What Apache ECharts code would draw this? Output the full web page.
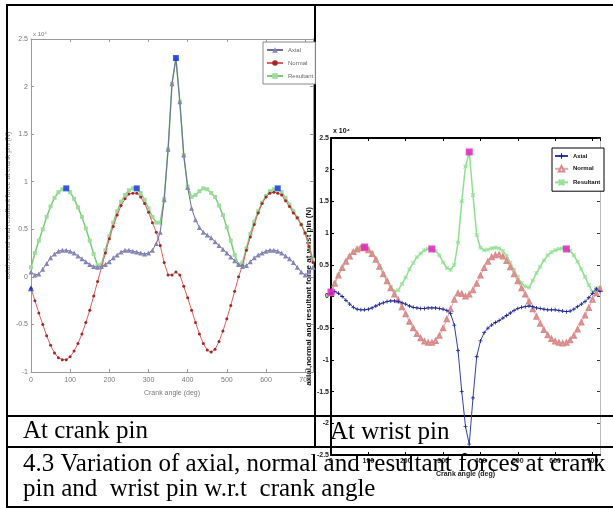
<!DOCTYPE html>
<html><head><meta charset="utf-8">
<script src="https://cdn.jsdelivr.net/npm/echarts@6/dist/echarts.min.js"></script>
<style>html,body{margin:0;padding:0;background:#fff}#c{width:613px;height:508px}</style>
</head><body><div id="c"></div>
<script>
// crank angle, degrees (step 10)
const angles = [];
for (let a = 0; a <= 720; a += 10) angles.push(a);

// ---- At crank pin (x10^4 N) ----
const crankAxial = [0.05,0.02,0.03,0.08,0.14,0.2,0.24,0.27,0.28,0.28,0.27,0.25,0.22,0.19,0.16,0.13,0.11,0.1,0.11,0.13,0.16,0.2,0.23,0.26,0.28,0.28,0.27,0.26,0.25,0.24,0.25,0.28,0.35,0.47,0.81,1.34,2.03,2.30,1.84,1.28,0.94,0.72,0.6,0.52,0.47,0.44,0.41,0.37,0.33,0.29,0.25,0.21,0.17,0.13,0.11,0.12,0.16,0.2,0.23,0.25,0.27,0.28,0.28,0.27,0.25,0.22,0.19,0.15,0.1,0.05,0.02,0.05,0.1];
const crankNormal = [-0.12,-0.25,-0.38,-0.5,-0.62,-0.72,-0.8,-0.85,-0.87,-0.87,-0.84,-0.78,-0.7,-0.6,-0.48,-0.35,-0.2,-0.05,0.1,0.25,0.4,0.53,0.65,0.75,0.82,0.87,0.88,0.88,0.84,0.77,0.68,0.57,0.47,0.33,0.15,0.02,0.02,0.05,0.02,-0.1,-0.22,-0.35,-0.48,-0.6,-0.7,-0.77,-0.79,-0.76,-0.68,-0.57,-0.44,-0.3,-0.15,0.0,0.12,0.28,0.42,0.55,0.67,0.77,0.84,0.88,0.89,0.88,0.86,0.8,0.74,0.67,0.62,0.55,0.46,0.32,0.15];
const crankResultant = [0.1,0.25,0.38,0.5,0.63,0.74,0.83,0.89,0.92,0.93,0.89,0.82,0.73,0.63,0.51,0.38,0.24,0.12,0.13,0.28,0.43,0.57,0.69,0.79,0.86,0.91,0.93,0.93,0.88,0.81,0.72,0.63,0.57,0.57,0.82,1.34,2.03,2.30,1.84,1.28,0.95,0.84,0.86,0.9,0.93,0.92,0.88,0.84,0.75,0.65,0.52,0.38,0.23,0.13,0.15,0.3,0.45,0.58,0.69,0.78,0.85,0.9,0.92,0.93,0.89,0.83,0.76,0.69,0.62,0.55,0.46,0.32,0.18];
const crankMarks = [[0,-0.12],[90,0.93],[270,0.93],[370,2.30],[630,0.93]];

// ---- At wrist pin (x10^4 N) ----
const wristAxial = [0.05,0.08,0.05,0.0,-0.06,-0.12,-0.17,-0.2,-0.21,-0.21,-0.2,-0.18,-0.15,-0.12,-0.1,-0.08,-0.07,-0.07,-0.08,-0.1,-0.12,-0.15,-0.17,-0.18,-0.19,-0.19,-0.18,-0.18,-0.18,-0.19,-0.2,-0.22,-0.27,-0.45,-0.85,-1.5,-2.05,-2.33,-1.6,-0.95,-0.7,-0.57,-0.5,-0.45,-0.41,-0.38,-0.34,-0.3,-0.26,-0.22,-0.19,-0.17,-0.16,-0.15,-0.16,-0.18,-0.19,-0.2,-0.21,-0.21,-0.21,-0.22,-0.23,-0.24,-0.23,-0.2,-0.16,-0.12,-0.08,-0.02,0.05,0.12,0.08];
const wristNormal = [0.05,0.2,0.33,0.45,0.55,0.63,0.7,0.74,0.76,0.76,0.73,0.67,0.58,0.47,0.35,0.24,0.13,0.03,-0.06,-0.17,-0.28,-0.4,-0.5,-0.59,-0.66,-0.71,-0.73,-0.73,-0.7,-0.62,-0.5,-0.36,-0.2,-0.05,0.05,0.04,0.0,0.03,0.1,0.2,0.33,0.45,0.55,0.62,0.65,0.66,0.63,0.56,0.46,0.35,0.24,0.13,0.03,-0.08,-0.2,-0.32,-0.43,-0.53,-0.61,-0.67,-0.71,-0.73,-0.74,-0.73,-0.69,-0.62,-0.52,-0.41,-0.3,-0.18,-0.05,0.05,0.12];
const wristResultant = [0.07,0.22,0.34,0.45,0.55,0.64,0.71,0.76,0.78,0.78,0.76,0.69,0.6,0.48,0.36,0.25,0.15,0.08,0.1,0.2,0.3,0.43,0.53,0.62,0.68,0.73,0.75,0.75,0.72,0.65,0.54,0.45,0.42,0.5,0.85,1.5,2.05,2.28,1.6,0.97,0.77,0.73,0.74,0.76,0.77,0.76,0.72,0.64,0.53,0.42,0.31,0.21,0.16,0.14,0.25,0.37,0.47,0.57,0.65,0.7,0.73,0.75,0.76,0.75,0.72,0.65,0.55,0.43,0.31,0.18,0.07,0.13,0.14];
const wristMarks = [[0,0.07],[90,0.78],[270,0.75],[370,2.28],[630,0.75]];

const xTicks = [0,100,200,300,400,500,600,700];
const seriesNames = ['Axial','Normal','Resultant'];
const captionCell1 = 'At crank pin';
const captionCell2 = 'At wrist pin';
const captionLine1 = '4.3 Variation of axial, normal and resultant forces at crank';
const captionLine2 = 'pin and  wrist pin w.r.t  crank angle';
const crankYName = 'axial,normal and resultant force at crank pin (N)';
const wristYName = 'axial,normal and resultant force at wrist pin (N)';
const xName = 'Crank angle (deg)';

const pair = arr => arr.map((v, i) => [angles[i], v]);
const plusPath = 'path://M4,0h2v4h4v2h-4v4h-2v-4h-4v-2h4z';
const starPath = 'path://M0,0L10,10M10,0L0,10M5,0V10M0,5H10';

const chart = echarts.init(document.getElementById('c'), null, {renderer: 'canvas'});

function lineOf(x1, y1, x2, y2) {
  return {type: 'line', z: 1, shape: {x1, y1, x2, y2}, style: {stroke: '#000', lineWidth: 2}};
}

const grayAx = '#9a9a9a';
const leftLabel = {fontSize: 7, color: '#777', fontFamily: 'Liberation Sans'};
const rightLabel = {fontSize: 7, color: '#222', fontWeight: 'bold', fontFamily: 'Liberation Sans'};

const option = {
  animation: false,
  backgroundColor: '#fff',
  grid: [
    {left: 31, top: 39, width: 282, height: 333, containLabel: false},
    {left: 331, top: 138, width: 269, height: 317, containLabel: false}
  ],
  legend: [
    {
      data: seriesNames, left: 263, top: 42, orient: 'vertical', itemWidth: 16, itemHeight: 7, itemGap: 7,
      padding: [5, 2, 5, 3], backgroundColor: '#fff', borderColor: '#888', borderWidth: 1, borderRadius: 0,
      textStyle: {fontSize: 6, color: '#666', fontFamily: 'Liberation Sans'}, selectedMode: false
    },
    {
      data: seriesNames.map(n => n + ' '), left: 552, top: 148, orient: 'vertical', itemWidth: 13, itemHeight: 7, itemGap: 6,
      padding: [5, 2, 5, 2], backgroundColor: '#fff', borderColor: '#000', borderWidth: 1, borderRadius: 0,
      textStyle: {fontSize: 6, color: '#111', fontWeight: 'bold', fontFamily: 'Liberation Sans'}, selectedMode: false
    }
  ],
  xAxis: [
    {gridIndex: 0, type: 'value', min: 0, max: 720, interval: 100, name: xName, nameLocation: 'middle', nameGap: 18,
     nameTextStyle: leftLabel, axisLine: {onZero: false, lineStyle: {color: grayAx}},
     axisTick: {inside: true, length: 3, lineStyle: {color: grayAx}}, axisLabel: Object.assign({margin: 5}, leftLabel),
     splitLine: {show: false}},
    {gridIndex: 0, type: 'value', position: 'top', min: 0, max: 720, interval: 100,
     axisLine: {onZero: false, lineStyle: {color: grayAx}}, axisTick: {inside: true, length: 3, lineStyle: {color: grayAx}},
     axisLabel: {show: false}, splitLine: {show: false}},
    {gridIndex: 1, type: 'value', min: 0, max: 720, interval: 100, name: xName, nameLocation: 'middle', nameGap: 16,
     nameTextStyle: rightLabel, axisLine: {onZero: false, lineStyle: {color: '#000', width: 2}},
     axisTick: {inside: true, length: 3, lineStyle: {color: '#000'}}, axisLabel: Object.assign({margin: 3}, rightLabel),
     splitLine: {show: false}},
    {gridIndex: 1, type: 'value', position: 'top', min: 0, max: 720, interval: 100,
     axisLine: {onZero: false, lineStyle: {color: '#000', width: 2}}, axisTick: {inside: true, length: 3, lineStyle: {color: '#000'}},
     axisLabel: {show: false}, splitLine: {show: false}}
  ],
  yAxis: [
    {gridIndex: 0, type: 'value', min: -1, max: 2.5, interval: 0.5, name: crankYName, nameLocation: 'middle', nameGap: 14,
     nameRotate: 90, nameTextStyle: leftLabel, axisLine: {onZero: false, lineStyle: {color: grayAx}},
     axisTick: {inside: true, length: 3, lineStyle: {color: grayAx}}, axisLabel: Object.assign({margin: 3}, leftLabel),
     splitLine: {show: false}},
    {gridIndex: 0, type: 'value', position: 'right', min: -1, max: 2.5, interval: 0.5,
     axisLine: {onZero: false, lineStyle: {color: grayAx}}, axisTick: {inside: true, length: 3, lineStyle: {color: grayAx}},
     axisLabel: {show: false}, splitLine: {show: false}},
    {gridIndex: 1, type: 'value', min: -2.5, max: 2.5, interval: 0.5, name: wristYName, nameLocation: 'middle', nameGap: 5,
     nameRotate: 90, nameTextStyle: {fontSize: 8, color: '#111', fontWeight: 'bold', fontFamily: 'Liberation Sans'},
     axisLine: {onZero: false, lineStyle: {color: '#000', width: 2}},
     axisTick: {inside: true, length: 3, lineStyle: {color: '#000'}}, axisLabel: Object.assign({margin: 2}, rightLabel),
     splitLine: {show: false}},
    {gridIndex: 1, type: 'value', position: 'right', min: -2.5, max: 2.5, interval: 0.5,
     axisLine: {onZero: false, lineStyle: {color: '#bbb', width: 1}}, axisTick: {inside: true, length: 3, lineStyle: {color: '#333'}},
     axisLabel: {show: false}, splitLine: {show: false}}
  ],
  series: [
    // crank pin
    {name: 'Resultant', type: 'line', xAxisIndex: 0, yAxisIndex: 0, data: pair(crankResultant), z: 3,
     symbol: 'rect', symbolSize: 4, showAllSymbol: true, lineStyle: {color: '#78cc78', width: 1.5}, itemStyle: {color: '#9ddc9d'}},
    {name: 'Normal', type: 'line', xAxisIndex: 0, yAxisIndex: 0, data: pair(crankNormal), z: 4,
     symbol: 'circle', symbolSize: 3, showAllSymbol: true, lineStyle: {color: '#e06060', width: 1}, itemStyle: {color: '#a02828'}},
    {name: 'Axial', type: 'line', xAxisIndex: 0, yAxisIndex: 0, data: pair(crankAxial), z: 5,
     symbol: 'triangle', symbolSize: 5, showAllSymbol: true, lineStyle: {color: '#6c6c9e', width: 1}, itemStyle: {color: '#8686b6'}},
    {type: 'scatter', xAxisIndex: 0, yAxisIndex: 0, z: 6, symbolSize: 6, itemStyle: {color: '#1535e0'},
     data: crankMarks.map((p, i) => ({value: p, symbol: i === 0 ? 'triangle' : 'rect'}))},
    // wrist pin
    {name: 'Resultant ', type: 'line', xAxisIndex: 2, yAxisIndex: 2, data: pair(wristResultant), z: 3,
     symbol: starPath, symbolSize: 4, showAllSymbol: true, lineStyle: {color: '#8ee08e', width: 1.5},
     itemStyle: {color: '#b0ecb0', borderColor: '#9ae29a', borderWidth: 1}},
    {name: 'Normal ', type: 'line', xAxisIndex: 2, yAxisIndex: 2, data: pair(wristNormal), z: 4,
     symbol: 'emptyTriangle', symbolSize: 4, showAllSymbol: true, lineStyle: {color: '#e4a8a8', width: 1},
     itemStyle: {color: '#da8c8c', borderColor: '#d88686', borderWidth: 1}},
    {name: 'Axial ', type: 'line', xAxisIndex: 2, yAxisIndex: 2, data: pair(wristAxial), z: 5,
     symbol: plusPath, symbolSize: 4, showAllSymbol: true, lineStyle: {color: '#3040a8', width: 1}, itemStyle: {color: '#1a2090'}},
    {type: 'scatter', xAxisIndex: 2, yAxisIndex: 2, z: 6, symbol: 'rect', symbolSize: 7, itemStyle: {color: '#e418c0'},
     data: wristMarks}
  ],
  graphic: [
    lineOf(7, 5, 613, 5),
    lineOf(7, 4, 7, 508),
    lineOf(315, 5, 315, 447),
    lineOf(7, 416, 613, 416),
    lineOf(7, 447, 613, 447),
    lineOf(7, 507, 613, 507),
    {type: 'text', z: 1, x: 33, y: 34, style: {text: 'x 10⁴', fontSize: 6, fill: '#777', fontFamily: 'Liberation Sans', verticalAlign: 'middle'}},
    {type: 'text', z: 1, x: 333, y: 131, style: {text: 'x 10⁴', fontSize: 7, fill: '#111', fontWeight: 'bold', fontFamily: 'Liberation Sans', verticalAlign: 'middle'}},
    {type: 'text', z: 1, x: 23, y: 431, style: {text: captionCell1, fontSize: 25, fill: '#000', fontFamily: 'Liberation Serif', verticalAlign: 'middle'}},
    {type: 'text', z: 1, x: 330, y: 432, style: {text: captionCell2, fontSize: 25, fill: '#000', fontFamily: 'Liberation Serif', verticalAlign: 'middle'}},
    {type: 'text', z: 1, x: 23, y: 464, style: {text: captionLine1, fontSize: 25, fill: '#000', fontFamily: 'Liberation Serif', verticalAlign: 'middle'}},
    {type: 'text', z: 1, x: 23, y: 489, style: {text: captionLine2, fontSize: 25, fill: '#000', fontFamily: 'Liberation Serif', verticalAlign: 'middle'}}
  ]
};
chart.setOption(option);
</script></body></html>
